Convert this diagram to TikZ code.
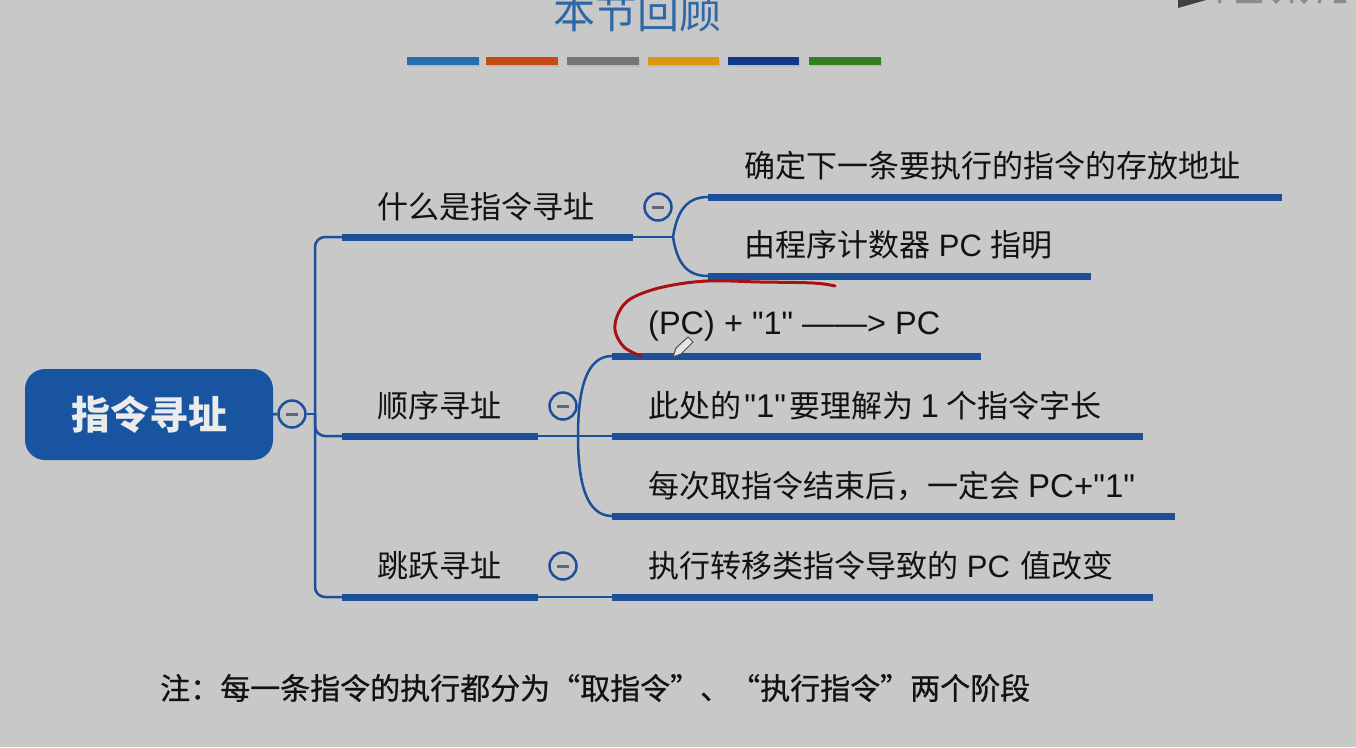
\documentclass[tikz,border=0pt]{standalone}
\usepackage{fontspec}
\setmainfont{Noto Sans CJK SC}
\newfontfamily\lat{Liberation Sans}
\newfontfamily\notefont[FakeBold=0.7]{Noto Sans CJK SC}
\definecolor{bg}{RGB}{200,200,200}
\definecolor{mapblue}{RGB}{28,80,152}
\definecolor{rootblue}{RGB}{24,84,160}
\definecolor{titleblue}{RGB}{48,104,166}
\definecolor{minusgray}{RGB}{95,102,122}
\definecolor{annred}{RGB}{168,18,22}
\definecolor{txt}{RGB}{18,18,18}
\definecolor{barA}{RGB}{38,108,176}
\definecolor{barB}{RGB}{196,76,18}
\definecolor{barC}{RGB}{118,118,118}
\definecolor{barD}{RGB}{220,150,20}
\definecolor{barE}{RGB}{18,56,140}
\definecolor{barF}{RGB}{54,126,34}
\tikzset{
  thin line/.style={draw=mapblue, line width=2.5pt},
  thick bar/.style={draw=mapblue, line width=7pt},
  lvl/.style={anchor=west, inner sep=0pt, text=txt, font=\fontsize{31}{31}\selectfont},
  toggle/.style={circle, draw=mapblue, line width=2.5pt, fill=bg, minimum size=27pt, inner sep=0pt,
    path picture={\draw[minusgray, line width=3pt] ([xshift=-6pt]path picture bounding box.center) -- ([xshift=6pt]path picture bounding box.center);}},
  colorbar/.style={line width=8pt},
}
\begin{document}
\begin{tikzpicture}[x=1pt, y=-1pt]
\useasboundingbox (0,0) rectangle (1356,747);
\fill[bg] (0,0) rectangle (1356,747);

% title
\node[anchor=base, inner sep=0pt, text=titleblue, font=\fontsize{42}{42}\selectfont] (title) at (637,28) {本节回顾};
% colour bars
\foreach \c/\a/\b in {barA/407/479, barB/486/558, barC/567/639, barD/648/719, barE/728/799, barF/809/881}{
  \draw[black!30, line width=8pt, opacity=0.5] (\a+1,62.5) -- (\b+1,62.5);
  \draw[\c, colorbar] (\a,60.5) -- (\b,60.5);
}
% top-right logo fragment
\fill[black!75] (1178,0) -- (1178,8) -- (1206,0) -- cycle;
\fill[black!45] (1218,0) rectangle (1221,3) (1236,0) rectangle (1262,3) (1272,0) -- (1280,0) -- (1276,4) -- cycle
  (1290,0) rectangle (1293,3) (1300,0) -- (1308,0) -- (1304,4) -- cycle (1318,0) rectangle (1321,3) (1334,0) rectangle (1346,3);

% root
\node[rounded corners=20pt, fill=rootblue, minimum width=248pt, minimum height=91pt, inner sep=0pt,
  text=white!92!black, font=\fontsize{39}{39}\selectfont\bfseries] (root) at (149,414.5) {指令寻址};
\node[toggle] (t0) at (292,414) {};

% level 1 texts
\node[lvl] (b1) at (377,207) {什么是指令寻址};
\node[lvl] (b2) at (377,406) {顺序寻址};
\node[lvl] (b3) at (377,566) {跳跃寻址};
\node[toggle] (t1) at (658,207) {};
\node[toggle] (t2) at (563,406) {};
\node[toggle] (t3) at (563,566) {};

% level 2 texts
\node[lvl] (c11) at (744,166) {确定下一条要执行的指令的存放地址};
\node[lvl] (c12) at (744,245) {由程序计数器{\lat\ PC }指明};
\node[lvl] (c21) at (648,326) {{\lat\fontsize{32.5}{32}\selectfont (PC) + "1" ——> PC}};
\node[lvl] (c22) at (648,406) {此处的\makebox[48pt][c]{\lat\fontsize{33}{33}\selectfont "1"}要理解为\makebox[33pt][c]{\lat\fontsize{33}{33}\selectfont 1}个指令字长};
\node[lvl] (c23) at (648,486) {每次取指令结束后，一定会\hspace{8pt}{\lat\fontsize{33}{33}\selectfont PC+"1"}};
\node[lvl] (c31) at (648,566) {执行转移类指令导致的{\lat\ PC\ }\hspace{2pt}值改变};

% bar coordinates
\coordinate (trunk) at (315,414);
\coordinate (b1s) at (342,237); \coordinate (b1e) at (633,237);
\coordinate (b2s) at (342,436); \coordinate (b2e) at (538,436);
\coordinate (b3s) at (342,597); \coordinate (b3e) at (538,597);
\coordinate (j1) at (673,237);
\coordinate (j2) at (578,436);
\coordinate (c11s) at (708,197); \coordinate (c11e) at (1282,197);
\coordinate (c12s) at (708,276); \coordinate (c12e) at (1091,276);
\coordinate (c21s) at (612,356); \coordinate (c21e) at (981,356);
\coordinate (c22s) at (612,436); \coordinate (c22e) at (1143,436);
\coordinate (c23s) at (612,516); \coordinate (c23e) at (1175,516);
\coordinate (c31s) at (612,597); \coordinate (c31e) at (1153,597);

% connectors root
\draw[thin line] (root.east) -- (t0.west);
\draw[thin line] (t0.east) -- (trunk);
\draw[thin line, rounded corners=10pt] (b1s) -- (315,237) -- (315,597) -- (b3s);
\draw[thin line, rounded corners=10pt] (trunk) -- (315,436) -- (b2s);

% branch 1
\draw[thin line] (b1e) -- (j1);
\draw[thin line] (j1) .. controls (677,212) and (686,197) .. (c11s);
\draw[thin line] (j1) .. controls (677,262) and (686,276) .. (c12s);
% branch 2
\draw[thin line] (b2e) -- (c22s);
\draw[thin line] (j2) .. controls (578,390) and (586,356) .. (c21s);
\draw[thin line] (j2) .. controls (578,482) and (586,516) .. (c23s);
% branch 3
\draw[thin line] (b3e) -- (c31s);

% bars
\foreach \s/\e in {b1s/b1e, b2s/b2e, b3s/b3e, c11s/c11e, c12s/c12e, c21s/c21e, c22s/c22e, c23s/c23e, c31s/c31e}{
  \draw[thick bar] (\s) -- (\e);
}

% red annotation
\draw[annred, line width=3pt, line cap=round] plot[smooth, tension=0.6] coordinates
  {(641,356) (624,347) (615,330) (619,312) (632,298) (663,287) (707,281) (760,282) (813,283) (835,286)};

% pencil cursor
\filldraw[fill=white!90!black, draw=black!70, line width=1pt]
  (673,357) -- (676,348) -- (688,337) -- (693,342) -- (681,354) -- cycle;

% note
\node[anchor=west, inner sep=0pt, text=txt, font=\fontsize{30}{30}\notefont] (note) at (160,688)
  {注：每一条指令的执行都分为“取指令”、“执行指令”两个阶段};
\end{tikzpicture}
\end{document}
